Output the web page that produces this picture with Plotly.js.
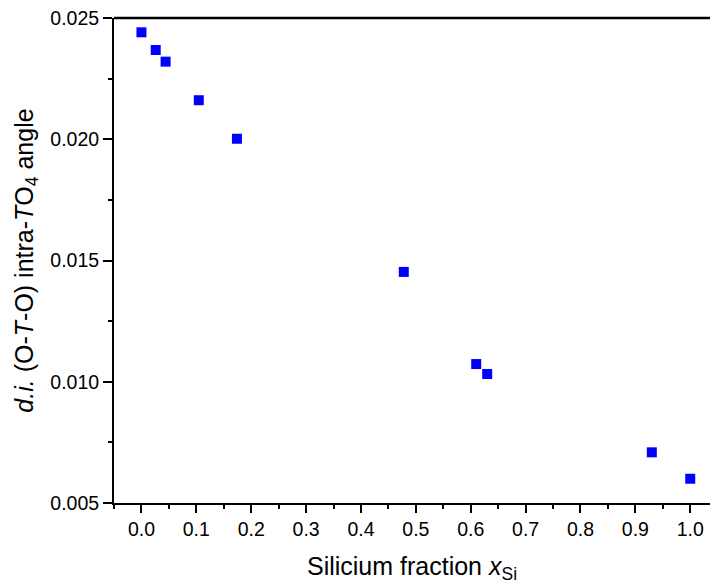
<!DOCTYPE html>
<html>
<head>
<meta charset="utf-8">
<script src="https://cdn.plot.ly/plotly-3.0.1.min.js"></script>
<style>html,body{margin:0;padding:0;background:#fff;}#chart{width:710px;height:586px;}</style>
</head>
<body>
<div id="chart"></div>
<script>
var xSi = [0.0, 0.026, 0.044, 0.1045, 0.174, 0.478, 0.610, 0.630, 0.930, 1.0];
var diAngle = [0.02441, 0.02368, 0.0232, 0.02161, 0.02002, 0.01453, 0.01073, 0.01032, 0.00709, 0.0060];

var trace = {
  x: xSi, y: diAngle, type: 'scatter', mode: 'markers',
  marker: {symbol: 'square', size: 10, color: '#0000ff', line: {width: 0}},
  showlegend: false
};

var font = {family: 'Arial, "Liberation Sans", sans-serif', color: '#000'};

var layout = {
  width: 710, height: 586,
  margin: {l: 114, r: 0, t: 18, b: 83},
  paper_bgcolor: '#fff', plot_bgcolor: '#fff',
  font: font,
  xaxis: {
    range: [-0.05, 1.036], dtick: 0.1, tick0: 0, tickformat: '.1f',
    showgrid: false, zeroline: false, showline: true, linecolor: '#000', linewidth: 2,
    ticks: 'outside', ticklen: 8, tickwidth: 2, tickcolor: '#000',
    minor: {dtick: 0.05, tick0: 0, ticks: 'outside', ticklen: 4, tickwidth: 2, tickcolor: '#000', showgrid: false},
    tickfont: {family: font.family, size: 19.5, color: '#000'},
    title: {text: 'Silicium fraction <i>x</i><sub>Si</sub>', font: {family: font.family, size: 25, color: '#000'}, standoff: 18}
  },
  yaxis: {
    range: [0.005, 0.025], dtick: 0.005, tick0: 0.005, tickformat: '.3f',
    showgrid: false, zeroline: false, showline: true, linecolor: '#000', linewidth: 2,
    ticks: 'outside', ticklen: 9, tickwidth: 2, tickcolor: '#000',
    minor: {dtick: 0.0025, tick0: 0.005, ticks: 'outside', ticklen: 4, tickwidth: 2, tickcolor: '#000', showgrid: false},
    tickfont: {family: font.family, size: 19.5, color: '#000'},
    title: {text: '<i>d.i.</i> (O-<i>T</i>-O) intra-<i>T</i>O<sub>4</sub> angle', font: {family: font.family, size: 25, color: '#000'}, standoff: 10}
  },
  shapes: [{type: 'line', xref: 'paper', yref: 'paper', x0: 0, x1: 1, y0: 1, y1: 1, line: {color: '#000', width: 2.5}}]
};

Plotly.newPlot('chart', [trace], layout, {displayModeBar: false, staticPlot: true});
</script>
</body>
</html>
